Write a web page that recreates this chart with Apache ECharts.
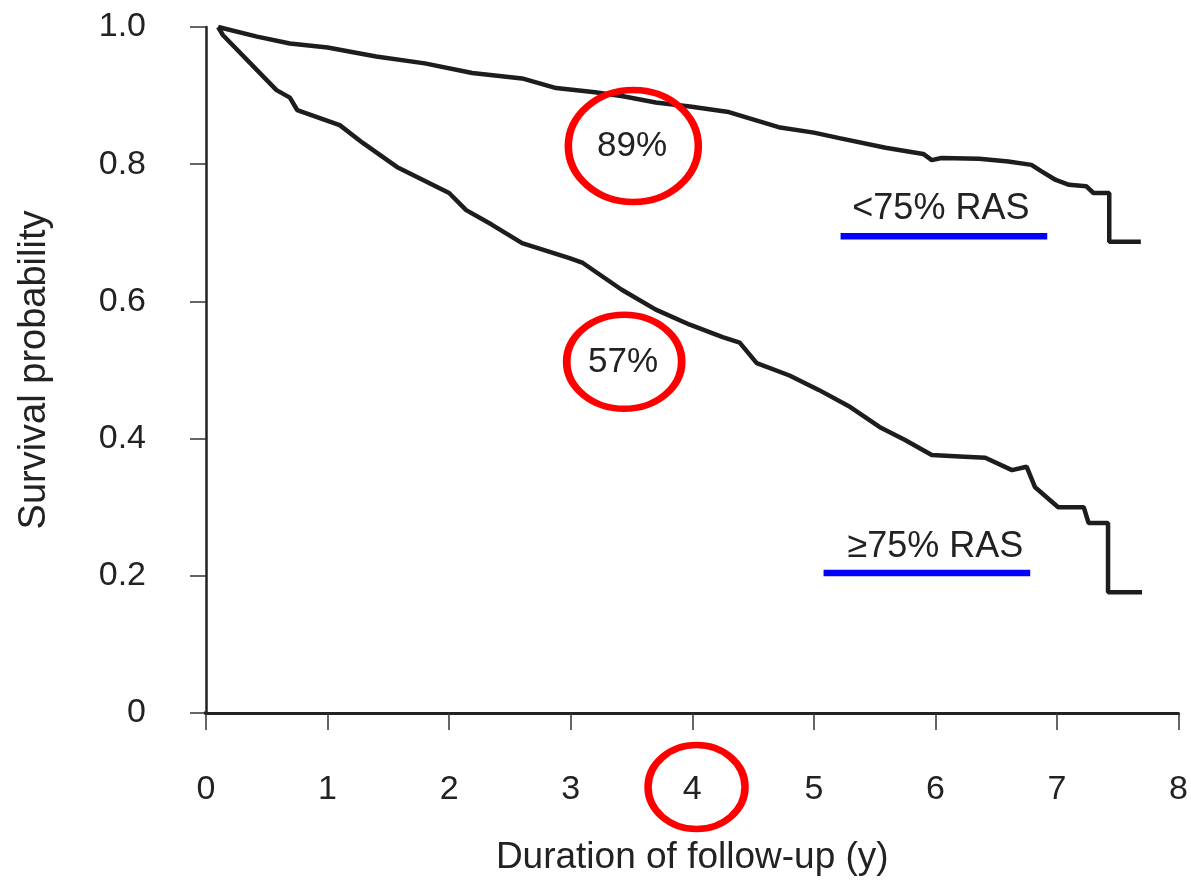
<!DOCTYPE html>
<html>
<head>
<meta charset="utf-8">
<script src="https://cdn.jsdelivr.net/npm/echarts@6/dist/echarts.min.js"></script>
<style>
html,body{margin:0;padding:0;background:#fff;}
#c{width:1191px;height:883px;}
</style>
</head>
<body>
<div id="c"></div>
<script>
// Survival curve: < 75% RAS  [years, probability]
const lowRasX = [0.1, 0.42, 0.69, 1.0, 1.40, 1.8, 2.19, 2.6, 2.88, 3.2, 3.43, 3.7, 3.98, 4.30, 4.71, 5.0, 5.21, 5.59, 5.90, 5.97, 6.05, 6.36, 6.6, 6.79, 6.87, 6.99, 7.1, 7.24, 7.30, 7.43, 7.43, 7.69];
const lowRasY = [1.0, 0.986, 0.976, 0.970, 0.957, 0.947, 0.933, 0.925, 0.911, 0.905, 0.899, 0.890, 0.884, 0.876, 0.854, 0.846, 0.838, 0.824, 0.815, 0.806, 0.809, 0.808, 0.804, 0.799, 0.790, 0.777, 0.770, 0.768, 0.758, 0.758, 0.687, 0.687];
// Survival curve: >= 75% RAS
const highRasX = [0.1, 0.14, 0.58, 0.69, 0.75, 1.10, 1.29, 1.57, 2.0, 2.14, 2.35, 2.60, 2.99, 3.10, 3.42, 3.7, 3.98, 4.25, 4.39, 4.53, 4.8, 5.04, 5.3, 5.54, 5.75, 5.97, 6.2, 6.41, 6.63, 6.75, 6.82, 7.01, 7.22, 7.26, 7.40, 7.42, 7.42, 7.70];
const highRasY = [1.0, 0.988, 0.908, 0.897, 0.879, 0.857, 0.831, 0.796, 0.758, 0.733, 0.712, 0.685, 0.663, 0.656, 0.617, 0.588, 0.566, 0.548, 0.540, 0.510, 0.492, 0.471, 0.446, 0.417, 0.398, 0.376, 0.374, 0.372, 0.354, 0.359, 0.329, 0.300, 0.300, 0.277, 0.277, 0.277, 0.176, 0.176];

const xTicks = [0, 1, 2, 3, 4, 5, 6, 7, 8];
const yTicks = [0, 0.2, 0.4, 0.6, 0.8, 1.0];

// Annotations: [x, y, text]
const curveLabels = [[6.045, 0.735, '<75% RAS'], [6.0, 0.2425, '\u226575% RAS']];
const legendBars = [[5.22, 6.92, 0.695], [5.08, 6.78, 0.204]];
const percentLabels = [[3.505, 0.8265, '89%'], [3.43, 0.511, '57%']];
// red ellipses: [x, y, width, height]
const ellipses = [[3.515, 0.8265, 130, 112], [3.44, 0.512, 115, 94], [4.035, -0.108, 97, 84]];

const zip = (xs, ys) => xs.map((x, i) => [x, ys[i]]);
const FONT = 'Liberation Sans, Arial, Helvetica, sans-serif';
const TXT = '#222222';

const chart = echarts.init(document.getElementById('c'), null, {renderer: 'canvas'});

const series = [
  {type: 'line', data: zip(lowRasX, lowRasY), showSymbol: false, symbol: 'none',
   lineStyle: {color: '#1e1c1f', width: 4.5}, z: 5, animation: false},
  {type: 'line', data: zip(highRasX, highRasY), showSymbol: false, symbol: 'none',
   lineStyle: {color: '#1e1c1f', width: 4.5}, z: 5, animation: false},
  // short extension of the x axis line to the left of the y axis
  {type: 'line', data: [[-0.16, 0], [0, 0]], symbol: 'none', clip: false,
   lineStyle: {color: '#222', width: 3}, animation: false}
];
legendBars.forEach(b => {
  series.push({type: 'line', data: [[b[0], b[2]], [b[1], b[2]]], symbol: 'none',
    lineStyle: {color: '#0000ff', width: 6.5, cap: 'butt'}, animation: false});
});
const textLabel = {position: 'inside', color: TXT, fontSize: 35, fontFamily: FONT,
  textBorderWidth: 0, textBorderColor: 'transparent', opacity: 1};
series.push({
  type: 'scatter', symbolSize: 0, clip: false, animation: false,
  itemStyle: {opacity: 1},
  data: curveLabels.map(l => ({value: [l[0], l[1]], label: {show: true, formatter: l[2], fontSize: 36}})),
  label: textLabel
});
series.push({
  type: 'scatter', symbolSize: 0, clip: false, animation: false,
  itemStyle: {opacity: 1},
  data: percentLabels.map(l => ({value: [l[0], l[1]], label: {show: true, formatter: l[2]}})),
  label: textLabel
});
series.push({
  type: 'scatter', clip: false, animation: false, symbol: 'circle',
  data: ellipses.map(e => ({value: [e[0], e[1]], symbolSize: [e[2], e[3]]})),
  itemStyle: {color: 'rgba(0,0,0,0)', borderColor: '#ff0000', borderWidth: 7, opacity: 1},
  z: 10
});

chart.setOption({
  backgroundColor: '#ffffff',
  animation: false,
  grid: {left: 206, right: 11, top: 27, bottom: 170, containLabel: false},
  xAxis: {
    type: 'value', min: 0, max: 8, interval: 1,
    name: 'Duration of follow-up (y)', nameLocation: 'middle', nameGap: 126,
    nameTextStyle: {fontSize: 37, color: TXT, fontFamily: FONT},
    axisLine: {show: true, onZero: false, lineStyle: {color: '#222', width: 3}},
    axisTick: {show: true, inside: false, length: 17, lineStyle: {color: '#333', width: 1.5}},
    axisLabel: {margin: 60, fontSize: 34, color: TXT, fontFamily: FONT,
      formatter: v => xTicks.includes(v) ? String(v) : ''},
    splitLine: {show: false}
  },
  yAxis: {
    type: 'value', min: 0, max: 1, interval: 0.2,
    name: 'Survival probability', nameLocation: 'middle', nameGap: 152, nameRotate: 90,
    nameTextStyle: {fontSize: 38, color: TXT, fontFamily: FONT},
    axisLine: {show: true, onZero: false, lineStyle: {color: '#222', width: 2.5}},
    axisTick: {show: true, inside: false, length: 16, lineStyle: {color: '#333', width: 1.5}},
    axisLabel: {margin: 60, fontSize: 34, color: TXT, fontFamily: FONT,
      formatter: v => {
        const t = yTicks.find(k => Math.abs(k - v) < 1e-9);
        if (t === undefined) return '';
        return t === 0 ? '0' : t.toFixed(1);
      }},
    splitLine: {show: false}
  },
  series: series
});
</script>
</body>
</html>
